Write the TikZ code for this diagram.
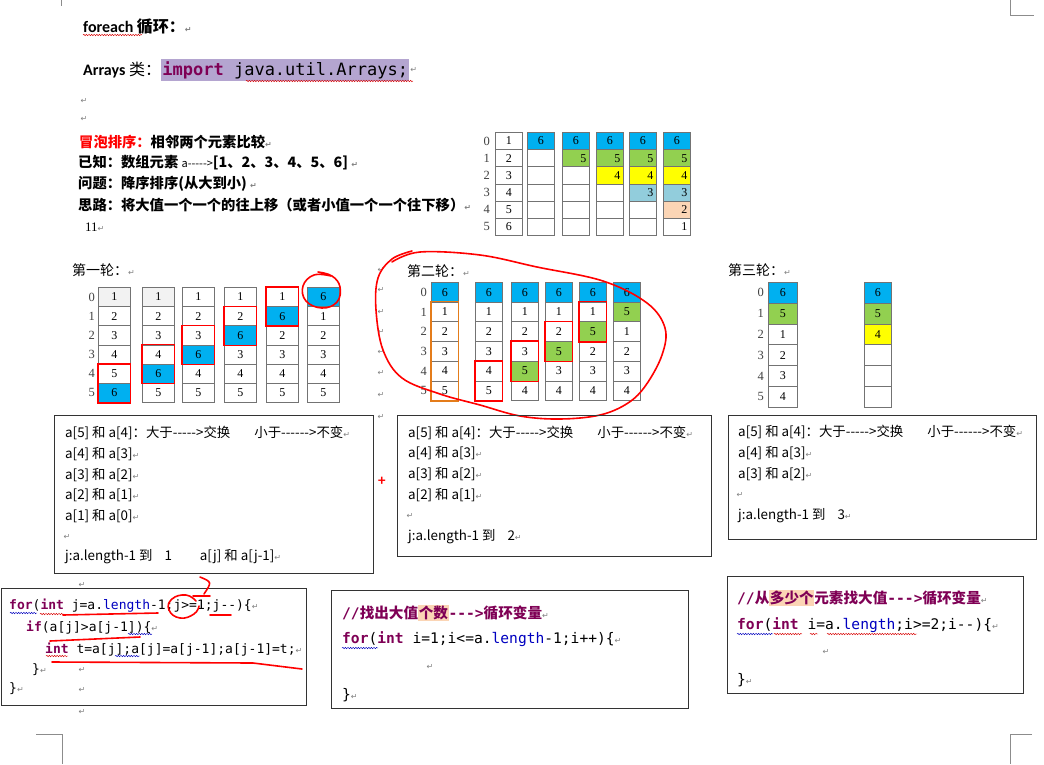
\documentclass[tikz,border=0pt]{standalone}
\usepackage{fontspec}
\setmainfont{Carlito}
\setmonofont{DejaVu Sans Mono}
\newfontfamily\cjk{Noto Sans CJK SC}
\newfontfamily\tabfont{Liberation Serif}
\newfontfamily\dvsans{DejaVu Sans}
\usetikzlibrary{positioning, decorations.pathmorphing}

\definecolor{cellblue}{HTML}{00B0F0}
\definecolor{cellgreen}{HTML}{92D050}
\definecolor{cellyellow}{HTML}{FFFF00}
\definecolor{cellaqua}{HTML}{92CDDC}
\definecolor{cellpeach}{HTML}{FBD5B5}
\definecolor{cellgray}{HTML}{F2F2F2}
\definecolor{boxorange}{HTML}{E47C1A}
\definecolor{kwmag}{HTML}{7F0055}
\definecolor{fieldblue}{HTML}{0000C0}
\definecolor{hlpurple}{HTML}{B4A5D0}

\newcommand\ret{{\dvsans\fontsize{8}{8}\selectfont\color{gray}↵}}
\newcommand\hy{\mbox{-}}
\newcommand\kw[1]{\textbf{\color{kwmag}#1}}
\newcommand\fld[1]{{\color{fieldblue}#1}}
\newcommand\hl[1]{{\setlength{\fboxsep}{0.6pt}\colorbox{cellpeach}{#1}}}
% one column of the array: name, left x, top y, width, text width, row height, cells
\newcommand\arrcol[7]{%
  \foreach \v/\f/\a [count=\r from 0] in {#7}
    \node[tcell, fill=\f, \a, minimum width=#4pt, text width=#5pt,
          minimum height=#6pt, anchor=north west] (#1-\r) at (#2,{#3+\r*#6}) {\v};
}

\tikzset{
  tcell/.style={draw=black!55, line width=0.7pt, inner xsep=3pt, inner ysep=0pt,
    font=\tabfont\fontsize{12}{12}\selectfont},
  ctr/.style={align=center},
  rgt/.style={align=right},
  idx/.style={inner sep=0pt, text=black!75, font=\tabfont\fontsize{12.5}{12.5}\selectfont},
  txt/.style={anchor=west, inner sep=0pt},
  headtxt/.style={txt, font=\cjk\bfseries\fontsize{14.3}{14.3}\selectfont},
  roundtxt/.style={txt, font=\cjk\fontsize{14}{14}\selectfont},
  boxtxt/.style={txt, font=\cjk\fontsize{13.4}{13.4}\selectfont},
  codetxt/.style={txt, font=\ttfamily\fontsize{13}{13}\selectfont},
  bigcode/.style={txt, font=\ttfamily\fontsize{14.6}{14.6}\selectfont},
  boxframe/.style={draw=black!80, line width=0.8pt, anchor=north west, inner sep=0pt},
  swapbox/.style={draw=red, line width=1.4pt},
  redpen/.style={red, line width=1.6pt, line cap=round, line join=round},
  spellred/.style={red!85!black, line width=0.45pt, decorate,
    decoration={snake, amplitude=0.7pt, segment length=2.6pt}},
  spellblue/.style={spellred, blue!75!black},
  retmark/.style={inner sep=0pt, font=\dvsans\fontsize{8}{8}\selectfont, text=gray},
  cropmark/.style={black!45, line width=0.6pt},
}

\begin{document}
\begin{tikzpicture}[x=1pt, y=-1pt]
  \useasboundingbox (0,0) rectangle (1044,764);
  \fill[white] (0,0) rectangle (1044,764);

  % page corner marks
  \draw[cropmark] (61,0) -- (61,6);
  \draw[cropmark] (1010,0) -- (1010,15) -- (1034,15);
  \draw[cropmark] (36,734) -- (62,734) -- (62,764);
  \draw[cropmark] (1032,734) -- (1010,734) -- (1010,764);

  % heading lines
  \node[txt, font=\bfseries\fontsize{16}{16}\selectfont] (title) at (83,27) {foreach {\cjk 循环：}\ret};
  \draw[spellred] (83,35) -- (142,35);
  \node[txt, font=\bfseries\fontsize{16}{16}\selectfont] (arrays) at (83,70) {Arrays {\cjk\mdseries 类：}};
  \node[txt, fill=hlpurple, inner xsep=1pt, minimum height=22pt, font=\ttfamily\fontsize{17}{17}\selectfont,
        right=0pt of arrays] (imp) {\kw{import} java.util.Arrays;};
  \node[retmark, right=1pt of imp] (ret0) {↵};
  \draw[spellred] (246,81) -- (413,81);
  \node[retmark] (ret1) at (84,101) {↵};
  \node[retmark] (ret2) at (84,119) {↵};

  \node[headtxt] (bubble) at (79,142) {{\color{red}冒泡排序：}相邻两个元素比较\ret};
  \node[headtxt] (known) at (78,163) {已知：数组元素 {\mdseries\fontsize{11}{11}\selectfont a\hy\hy\hy\hy\hy>}[1、2、3、4、5、6] \ret};
  \node[headtxt] (problem) at (78,184) {问题：降序排序(从大到小) \ret};
  \node[headtxt] (idea) at (78,205) {思路：将大值一个一个的往上移（或者小值一个一个往下移）\ret};
  \node[txt, font=\tabfont\fontsize{13}{13}\selectfont] (eleven) at (85,227) {11\ret};

  % result table, top right
  \arrcol{ta1}{495}{132}{27}{21}{17.2}{1/white/ctr,2/white/ctr,3/white/ctr,4/white/ctr,5/white/ctr,6/white/ctr}
  \arrcol{ta2}{527}{132}{27}{21}{17.2}{6/cellblue/ctr,{}/white/ctr,{}/white/ctr,{}/white/ctr,{}/white/ctr,{}/white/ctr}
  \arrcol{ta3}{562}{132}{27}{21}{17.2}{6/cellblue/ctr,5/cellgreen/rgt,{}/white/ctr,{}/white/ctr,{}/white/ctr,{}/white/ctr}
  \arrcol{ta4}{596}{132}{27}{21}{17.2}{6/cellblue/ctr,5/cellgreen/rgt,4/cellyellow/rgt,{}/white/ctr,{}/white/ctr,{}/white/ctr}
  \arrcol{ta5}{629}{132}{27}{21}{17.2}{6/cellblue/ctr,5/cellgreen/rgt,4/cellyellow/rgt,3/cellaqua/rgt,{}/white/ctr,{}/white/ctr}
  \arrcol{ta6}{663}{132}{27}{21}{17.2}{6/cellblue/ctr,5/cellgreen/rgt,4/cellyellow/rgt,3/cellaqua/rgt,2/cellpeach/rgt,1/white/rgt}
  \foreach \i in {0,...,5}
    \node[idx, left=5pt of ta1-\i] (la-\i) {\i};

  % first round
  \node[roundtxt] (round1) at (72,270) {第一轮：\ret};
  \arrcol{ra1}{98}{287}{32}{26}{19.2}{1/cellgray/ctr,2/white/ctr,3/white/ctr,4/white/ctr,5/white/ctr,6/cellblue/ctr}
  \arrcol{ra2}{142}{287}{32}{26}{19.2}{1/cellgray/ctr,2/white/ctr,3/white/ctr,4/white/ctr,6/cellblue/ctr,5/white/ctr}
  \arrcol{ra3}{182}{287}{32}{26}{19.2}{1/white/ctr,2/white/ctr,3/white/ctr,6/cellblue/ctr,4/white/ctr,5/white/ctr}
  \arrcol{ra4}{224}{287}{32}{26}{19.2}{1/white/ctr,2/white/ctr,6/cellblue/ctr,3/white/ctr,4/white/ctr,5/white/ctr}
  \arrcol{ra5}{266}{287}{32}{26}{19.2}{1/white/ctr,6/cellblue/ctr,2/white/ctr,3/white/ctr,4/white/ctr,5/white/ctr}
  \arrcol{ra6}{307}{287}{32}{26}{19.2}{6/cellblue/ctr,1/white/ctr,2/white/ctr,3/white/ctr,4/white/ctr,5/white/ctr}
  \foreach \i in {0,...,5}
    \node[idx, left=3pt of ra1-\i] (lb-\i) {\i};
  \draw[swapbox] (ra1-4.north west) rectangle (ra1-5.south east);
  \draw[swapbox] (ra2-3.north west) rectangle (ra2-4.south east);
  \draw[swapbox] (ra3-2.north west) rectangle (ra3-3.south east);
  \draw[swapbox] (ra4-1.north west) rectangle (ra4-2.south east);
  \draw[swapbox] (ra5-0.north west) rectangle (ra5-1.south east);
  \draw[redpen] plot[smooth, tension=0.7] coordinates {(331,276) (314,275) (303,286) (306,301) (322,308) (337,302) (340,287) (332,276) (318,272)};

  % second round
  \node[roundtxt] (round2) at (407,271) {第二轮：\ret};
  \arrcol{rb1}{431}{282}{27}{21}{19.7}{6/cellblue/ctr,1/white/ctr,2/white/ctr,3/white/ctr,4/white/ctr,5/white/ctr}
  \arrcol{rb2}{475}{282}{27}{21}{19.7}{6/cellblue/ctr,1/white/ctr,2/white/ctr,3/white/ctr,4/white/ctr,5/white/ctr}
  \arrcol{rb3}{511}{282}{27}{21}{19.7}{6/cellblue/ctr,1/white/ctr,2/white/ctr,3/white/ctr,5/cellgreen/ctr,4/white/ctr}
  \arrcol{rb4}{545}{282}{27}{21}{19.7}{6/cellblue/ctr,1/white/ctr,2/white/ctr,5/cellgreen/ctr,3/white/ctr,4/white/ctr}
  \arrcol{rb5}{579}{282}{27}{21}{19.7}{6/cellblue/ctr,1/white/ctr,5/cellgreen/ctr,2/white/ctr,3/white/ctr,4/white/ctr}
  \arrcol{rb6}{613}{282}{27}{21}{19.7}{6/cellblue/ctr,5/cellgreen/ctr,1/white/ctr,2/white/ctr,3/white/ctr,4/white/ctr}
  \foreach \i in {0,...,5}
    \node[idx, left=4pt of rb1-\i] (lc-\i) {\i};
  \draw[draw=boxorange, line width=1.3pt] (rb1-1.north west) rectangle (rb1-5.south east);
  \draw[swapbox] (rb2-4.north west) rectangle (rb2-5.south east);
  \draw[swapbox] (rb3-3.north west) rectangle (rb3-4.south east);
  \draw[swapbox] (rb4-2.north west) rectangle (rb4-3.south east);
  \draw[swapbox] (rb5-1.north west) rectangle (rb5-2.south east);
  \foreach \y [count=\k] in {270,290,312,332,352,373,395,417}
    \node[retmark] (rm-\k) at (381,\y) {↵};
  \draw[redpen] plot[smooth, tension=0.6] coordinates {(392,262) (420,252) (480,255) (537,267) (603,281) (647,303) (665,328) (662,355) (646,385) (628,403) (600,415) (560,419) (520,416) (480,405) (440,394) (402,378) (383,350) (376,310) (378,278) (392,259) (412,251)};

  % third round
  \node[roundtxt] (round3) at (728,270) {第三轮：\ret};
  \arrcol{rc1}{768}{282}{29}{23}{20.8}{6/cellblue/ctr,5/cellgreen/ctr,1/white/ctr,2/white/ctr,3/white/ctr,4/white/ctr}
  \arrcol{rc2}{864}{282}{27}{21}{20.8}{6/cellblue/ctr,5/cellgreen/ctr,4/cellyellow/ctr,{}/white/ctr,{}/white/ctr,{}/white/ctr}
  \foreach \i in {0,...,5}
    \node[idx, left=4pt of rc1-\i] (ld-\i) {\i};

  % comparison boxes
  \node[boxframe, minimum width=319pt, minimum height=158pt] (box1) at (54,415) {};
  \node[boxtxt] (b1a) at (65,433) {a[5] 和 a[4]：大于\hy\hy\hy\hy\hy>交换\hspace{24pt}小于\hy\hy\hy\hy\hy\hy>不变\ret};
  \node[boxtxt] (b1b) at (65,454) {a[4] 和 a[3]\ret};
  \node[boxtxt] (b1c) at (65,475) {a[3] 和 a[2]\ret};
  \node[boxtxt] (b1d) at (65,495) {a[2] 和 a[1]\ret};
  \node[boxtxt] (b1e) at (65,516) {a[1] 和 a[0]\ret};
  \node[retmark] (b1f) at (67,537) {↵};
  \node[boxtxt] (b1g) at (65,557) {j:a.length-1 到\hspace{12pt}1\hspace{28pt}a[j] 和 a[j-1]\ret};

  \node[txt, text=red, font=\bfseries\fontsize{15}{15}\selectfont] (plus) at (378,481) {+};

  \node[boxframe, minimum width=314pt, minimum height=141pt] (box2) at (397,415) {};
  \node[boxtxt] (b2a) at (408,433) {a[5] 和 a[4]：大于\hy\hy\hy\hy\hy>交换\hspace{24pt}小于\hy\hy\hy\hy\hy\hy>不变\ret};
  \node[boxtxt] (b2b) at (408,453) {a[4] 和 a[3]\ret};
  \node[boxtxt] (b2c) at (408,474) {a[3] 和 a[2]\ret};
  \node[boxtxt] (b2d) at (408,495) {a[2] 和 a[1]\ret};
  \node[retmark] (b2e) at (410,516) {↵};
  \node[boxtxt] (b2f) at (408,537) {j:a.length-1 到\hspace{12pt}2\ret};

  \node[boxframe, minimum width=308pt, minimum height=124pt] (box3) at (728,415) {};
  \node[boxtxt] (b3a) at (738,432) {a[5] 和 a[4]：大于\hy\hy\hy\hy\hy>交换\hspace{24pt}小于\hy\hy\hy\hy\hy\hy>不变\ret};
  \node[boxtxt] (b3b) at (738,453) {a[4] 和 a[3]\ret};
  \node[boxtxt] (b3c) at (738,474) {a[3] 和 a[2]\ret};
  \node[retmark] (b3d) at (740,495) {↵};
  \node[boxtxt] (b3e) at (738,516) {j:a.length-1 到\hspace{12pt}3\ret};

  % code boxes
  \node[retmark] (cr1) at (82,585) {↵};
  \node[boxframe, minimum width=305pt, minimum height=117pt] (code1) at (1,588) {};
  \node[codetxt] (c1a) at (9,606) {\kw{for}(\kw{int} j=a.\fld{length}-1;j>=1;j\hy\hy)\{\ret};
  \node[codetxt] (c1b) at (26,628) {\kw{if}(a[j]>a[j-1])\{\ret};
  \node[codetxt] (c1c) at (45,650) {\kw{int} t=a[j];a[j]=a[j-1];a[j-1]=t;\ret};
  \node[codetxt] (c1d) at (32,670) {\}\ret};
  \node[codetxt] (c1e) at (9,689) {\}\ret};
  \node[retmark] (cr2) at (82,670) {↵};
  \node[retmark] (cr3) at (82,690) {↵};
  \node[retmark] (cr4) at (82,712) {↵};
  \draw[spellblue] (10,613) -- (37,613);
  \draw[spellred] (40,614) -- (64,614);
  \draw[spellblue] (128,634) -- (152,634);
  \draw[spellred] (46,656) -- (68,656);
  \draw[spellblue] (115,656) -- (140,656);
  % hand marks on the code
  \draw[redpen] (63,615) -- (158,613);
  \draw[redpen] plot[smooth, tension=0.8] coordinates {(196,601) (186,595) (172,599) (169,610) (180,618) (194,614) (199,606)};
  \draw[redpen] (200,577) .. controls (212,582) .. (204,594);
  \draw[redpen] (193,596) -- (210,596);
  \draw[redpen] (210,615) -- (231,615);
  \draw[redpen] (50,641) -- (140,637);
  \draw[redpen] (52,662) -- (253,663) -- (302,669);

  \node[boxframe, minimum width=357pt, minimum height=118pt] (code2) at (331,590) {};
  \node[bigcode] (c2a) at (342,613) {{\color{kwmag}\bfseries //{\cjk 找出大值\hl{个数}}\hy\hy\hy>{\cjk 循环变量}}\ret};
  \node[bigcode] (c2b) at (342,639) {\kw{for}(\kw{int} i=1;i<=a.\fld{length}-1;i++)\{\ret};
  \node[retmark] (c2c) at (430,667) {↵};
  \node[bigcode] (c2d) at (342,695) {\}\ret};
  \draw[spellblue] (342,648) -- (378,648);

  \node[boxframe, minimum width=296pt, minimum height=117pt] (code3) at (727,576) {};
  \node[bigcode] (c3a) at (737,598) {{\color{kwmag}\bfseries //{\cjk 从\hl{多少个}元素找大值}\hy\hy\hy>{\cjk 循环变量}}\ret};
  \node[bigcode] (c3b) at (737,625) {\kw{for}(\kw{int} i=a.\fld{length};i>=2;i\hy\hy)\{\ret};
  \node[retmark] (c3c) at (826,652) {↵};
  \node[bigcode] (c3d) at (737,680) {\}\ret};
  \draw[spellblue] (737,634) -- (773,634);
  \draw[spellred] (774,634) -- (802,634);
  \draw[spellred] (810,634) -- (818,634);
  \draw[spellred] (827,634) -- (917,634);
\end{tikzpicture}
\end{document}
